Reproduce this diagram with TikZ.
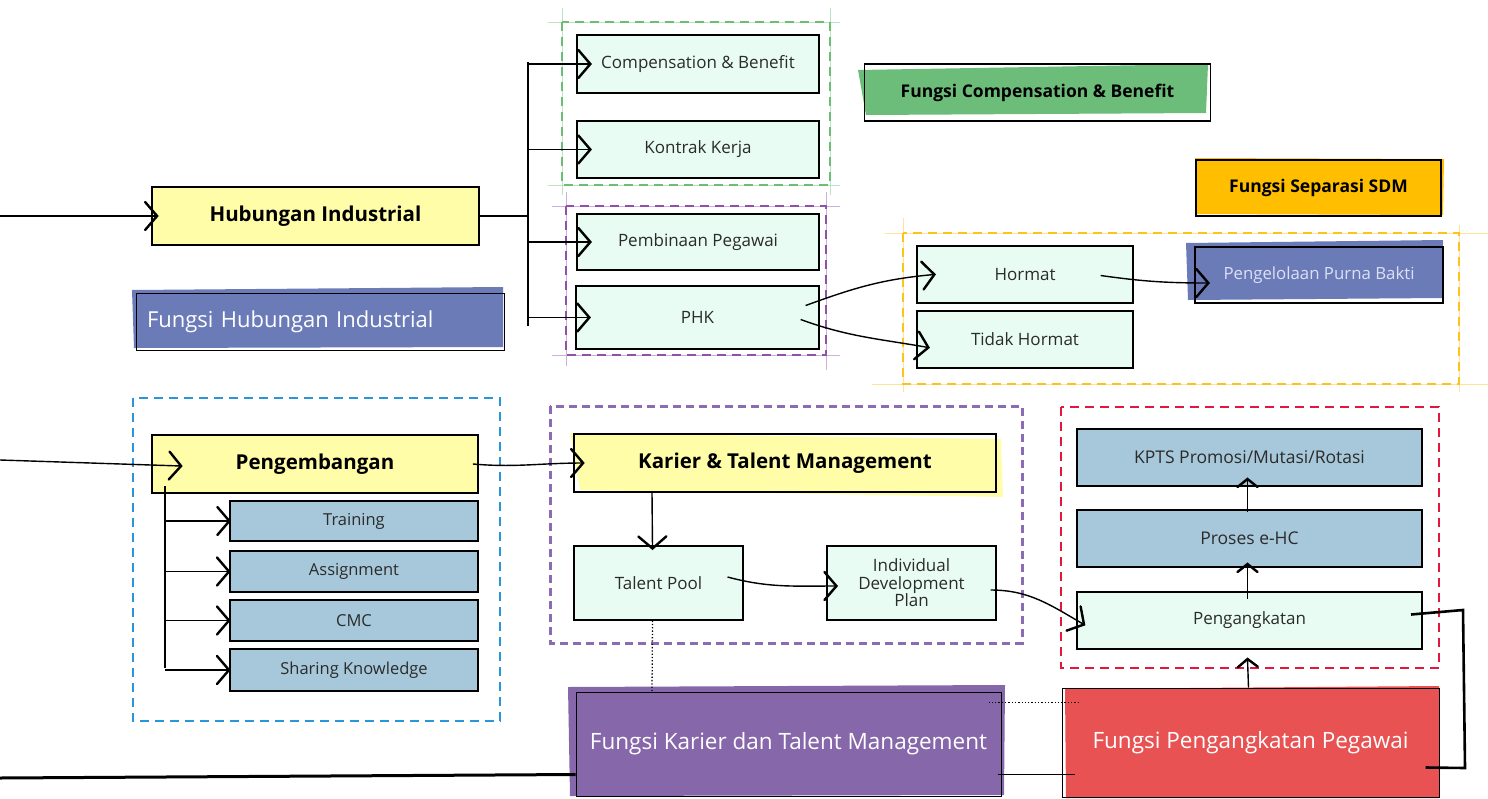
\documentclass[tikz,border=0pt]{standalone}
\usepackage{fontspec}
\setmainfont{Open Sans}
\usetikzlibrary{arrows.meta,calc,decorations.markings}

\definecolor{ink}{HTML}{2B2B2B}
\definecolor{paleyellow}{HTML}{FFFDA8}
\definecolor{mint}{HTML}{E8FCF4}
\definecolor{steel}{HTML}{A7C8DA}
\definecolor{indigo}{HTML}{6A7BB8}
\definecolor{leaf}{HTML}{6CBD7A}
\definecolor{amber}{HTML}{FFBF00}
\definecolor{grape}{HTML}{8667AA}
\definecolor{coral}{HTML}{E85252}
\definecolor{dashgreen}{HTML}{6ABF74}
\definecolor{dashpurple}{HTML}{8E52A8}
\definecolor{dashlilac}{HTML}{8B6BB3}
\definecolor{dashyellow}{HTML}{FFC21A}
\definecolor{dashblue}{HTML}{2A95D8}
\definecolor{dashred}{HTML}{E3173E}
\definecolor{lavtext}{HTML}{DDE0F5}

\tikzset{
  base/.style={draw=black, line width=1.3pt, inner sep=4pt, text=ink, align=center},
  headbox/.style={base, line width=1.8pt, fill=paleyellow, font=\bfseries\fontsize{20.5}{24}\selectfont, text=black},
  leafbox/.style={base, fill=mint, font=\fontsize{17}{19}\selectfont},
  bluebox/.style={base, fill=steel, font=\fontsize{16.5}{19}\selectfont},
  tagbox/.style={base, line width=1.8pt, font=\bfseries\fontsize{17.5}{20}\selectfont, text=black},
  unitbox/.style={base, line width=1pt, font=\fontsize{22.5}{26}\selectfont, text=white},
  group/.style={line width=1.4pt, dash pattern=on 9pt off 6pt},
  guide/.style={line width=0.5pt, opacity=0.45},
  conn/.style={line width=1.4pt, black},
  % open ">" head drawn at the end of a connector
  chevron/.style 2 args={postaction={decorate, decoration={markings,
      mark=at position 1 with {\draw[solid, line width=2.4pt, line cap=round, line join=miter]
        (-#1,#2) -- (0pt,0pt) -- (-#1,-#2);}}}},
  chev/.style={conn, chevron={12pt}{14pt}},
  chevs/.style={conn, chevron={8pt}{10pt}},
}

\begin{document}
\begin{tikzpicture}[x=1pt,y=-1pt]
\useasboundingbox (0,0) rectangle (1488,798);

% ---------- dashed grouping frames ----------
\draw[group, dashgreen] (562,22) rectangle (830,185);
\draw[guide, dashgreen] (548,22) -- (840,22) (548,185) -- (840,185)
                        (562,8) -- (562,195) (830,8) -- (830,195);
\draw[group, dashpurple] (566,206) rectangle (826,355);
\draw[guide, dashpurple] (552,206) -- (840,206) (552,355) -- (840,355)
                         (566,192) -- (566,366) (826,192) -- (826,370);
\draw[group, dashyellow] (903,233) rectangle (1459,384);
\draw[guide, dashyellow] (885,233) -- (1488,233) (872,384) -- (1488,384)
                         (903,218) -- (903,392) (1459,225) -- (1459,392);
\draw[group, dashblue, line width=1.8pt] (133,398) rectangle (500,721);
\draw[group, dashlilac, line width=3pt, dash pattern=on 8pt off 5pt] (550,406) rectangle (1022,643);
\draw[group, dashred, line width=1.8pt] (1061,407) rectangle (1439,668);

% ---------- loosely painted fills under the labels ----------
\fill[indigo] (132,290) -- (503,287) -- (503,347) -- (134,348) -- cycle;
\fill[leaf]   (858,70) -- (1208,64) -- (1206,113) -- (866,115) -- cycle;
\fill[amber]  (1195,158) -- (1444,159) -- (1443,215) -- (1196,214) -- cycle;
\fill[indigo] (1186,243) -- (1443,240) -- (1442,298) -- (1188,300) -- cycle;
\fill[grape]  (568,687) -- (1005,685) -- (1004,795) -- (570,796) -- cycle;
\fill[coral]  (1065,689) -- (1439,686) -- (1439,798) -- (1066,798) -- cycle;
\fill[paleyellow] (570,433) -- (1001,439) -- (1003,497) -- (580,490) -- cycle;

% ---------- Hubungan Industrial branch ----------
\node[headbox, minimum width=327pt, minimum height=58pt] (hub) at (315.5,216) {Hubungan Industrial};
\node[unitbox, minimum width=368pt, minimum height=57pt,
      text width=346pt, align=left, font=\fontsize{22}{25}\selectfont] (fhub) at (320,321.5) {Fungsi Hubungan Industrial};

\node[leafbox, minimum width=242pt, minimum height=58pt] (cb)  at (698,64)    {Compensation \& Benefit};
\node[leafbox, minimum width=242pt, minimum height=57pt] (kk)  at (698,149.5) {Kontrak Kerja};
\node[leafbox, minimum width=242pt, minimum height=56pt] (pp)  at (698,242)   {Pembinaan Pegawai};
\node[leafbox, minimum width=243pt, minimum height=63pt] (phk) at (697.5,317.5) {PHK};

\node[tagbox, minimum width=346pt, minimum height=57pt] (fcb) at (1037.5,92.5) {Fungsi Compensation \& Benefit};
\node[tagbox, minimum width=245pt, minimum height=56pt] (fsep) at (1318.5,188) {Fungsi Separasi SDM};

\node[leafbox, minimum width=216pt, minimum height=57pt] (hormat) at (1025,274.5) {Hormat};
\node[leafbox, minimum width=216pt, minimum height=57pt] (tidak)  at (1025,339.5) {Tidak Hormat};
\node[base, text=lavtext, font=\fontsize{16.8}{19}\selectfont,
      minimum width=248pt, minimum height=56pt] (purna) at (1319,275) {Pengelolaan Purna Bakti};

% bus feeding the four Hubungan Industrial topics
\coordinate (hin) at (0,216);
\coordinate (hbus) at (528,216);
\coordinate (hbustop) at (528,62);
\coordinate (hbusbot) at (528,326);
\draw[chev] (hin) -- ([xshift=6pt]hub.west);
\draw[conn] (hub.east) -- (hbus);
\draw[conn] (hbustop) -- (hbusbot);
\draw[chev] (hbustop |- cb.west) -- ([xshift=14pt]cb.west);
\draw[chev] (hbustop |- kk.west) -- ([xshift=14pt]kk.west);
\draw[chev] (hbustop |- pp.west) -- ([xshift=14pt]pp.west);
\draw[chev] (hbustop |- phk.west) -- ([xshift=14pt]phk.west);

\draw[chev] ($(phk.east)+(-14,-12)$) to[out=20,in=185] ([xshift=18pt]hormat.west);
\draw[chev] ($(phk.east)+(-19,2)$) to[out=-20,in=170] ([xshift=12pt,yshift=-8pt]tidak.west);
\draw[chev] ($(hormat.east)+(-33,1)$) to[out=-8,in=180] ([xshift=14pt,yshift=-8pt]purna.west);

% ---------- Pengembangan branch ----------
\node[headbox, minimum width=326pt, minimum height=58pt] (peng) at (315,464) {Pengembangan};
\node[bluebox, minimum width=248pt, minimum height=40pt] (train)  at (354,521)   {Training};
\node[bluebox, line width=2pt, minimum width=248pt, minimum height=41pt] (assign) at (354,571.5) {Assignment};
\node[bluebox, line width=2pt, minimum width=248pt, minimum height=41pt] (cmc)    at (354,620.5) {CMC};
\node[bluebox, line width=2pt, minimum width=248pt, minimum height=42pt] (share)  at (354,670)   {Sharing Knowledge};

\coordinate (pin) at (0,460);
\coordinate (pbustop) at (165,486);
\coordinate (pbusbot) at (165,668);
\draw[chev] (pin) -- ([xshift=30pt,yshift=-2pt]peng.west);
\draw[conn] (pbustop) -- (pbusbot);
\draw[chev] (pbustop |- train.west) -- (train.west);
\draw[chev] (pbustop |- assign.west) -- (assign.west);
\draw[chev] (pbustop |- cmc.west) -- (cmc.west);
\draw[chev] (pbustop |- share.west) -- (share.west);

% ---------- Karier & Talent Management branch ----------
\node[headbox, fill=none, minimum width=422pt, minimum height=58pt] (karier) at (785,463) {Karier \& Talent Management};
\node[leafbox, line width=1.1pt, minimum width=169pt, minimum height=74pt] (tpool) at (658.5,583) {Talent Pool};
\node[leafbox, line width=1.1pt, minimum width=169pt, minimum height=74pt,
      font=\fontsize{17}{17.5}\selectfont] (idp) at (911.5,583) {Individual\\Development\\Plan};
\node[unitbox, minimum width=425pt, minimum height=104pt] (fkarier) at (788.5,744) {Fungsi Karier dan Talent Management};

\draw[chev] ([xshift=-6pt]peng.east) to[out=-5,in=180] ([xshift=10pt]karier.west);
\draw[chev] ([xshift=-133pt]karier.south) -- ([xshift=-6pt,yshift=-3pt]tpool.north);
\draw[chev] ($(tpool.east)+(-16,-6)$) to[out=-15,in=180] ([xshift=10pt,yshift=-3pt]idp.west);
\draw[dotted, line width=1.3pt] ([xshift=-6pt]tpool.south) -- ([xshift=-136.5pt]fkarier.north);

% ---------- Pengangkatan branch ----------
\node[bluebox, line width=2pt, minimum width=345pt, minimum height=57pt, font=\fontsize{17.5}{20}\selectfont] (kpts) at (1249.5,457.5) {KPTS Promosi/Mutasi/Rotasi};
\node[bluebox, line width=2pt, minimum width=345pt, minimum height=57pt, font=\fontsize{17.5}{20}\selectfont] (ehc) at (1249.5,538.5) {Proses e-HC};
\node[leafbox, line width=2pt, minimum width=345pt, minimum height=57pt] (pangkat) at (1249.5,620.5) {Pengangkatan};
\node[unitbox, minimum width=377pt, minimum height=109pt] (fpeng) at (1250.5,742.5) {Fungsi Pengangkatan Pegawai};

\draw[chev] ($(idp.east)+(-6,7)$) to[out=0,in=150] ([xshift=8pt,yshift=-4pt]pangkat.west);
\draw[chevs] ([xshift=-2pt]fpeng.north) -- ([xshift=-2pt,yshift=-9pt]pangkat.south);
\draw[chevs] ([xshift=-2pt,yshift=-8pt]pangkat.north) -- ([xshift=-2pt,yshift=4pt]ehc.south);
\draw[chevs] ([xshift=-2pt,yshift=-3pt]ehc.north) -- ([xshift=-2pt,yshift=8pt]kpts.south);

% return loop from Pengangkatan into its unit
\draw[line width=2.6pt, line join=miter]
  ($(pangkat.east)+(-12,-6)$) -- (1463,610) -- (1465,768) -- ($(fpeng.east)+(-14,25)$);

% links between the two bottom units and the incoming line
\coordinate (kin) at (0,778);
\draw[line width=3pt] (kin) -- ([yshift=22pt]fkarier.south west);
\draw[line width=0.8pt] ([xshift=-4pt,yshift=22pt]fkarier.south east) -- ([xshift=13pt,yshift=23pt]fpeng.south west);
\draw[dotted, line width=1.3pt] ($(fkarier.north east)+(-13,11)$) -- ($(fpeng.north west)+(18,15)$);

\end{tikzpicture}
\end{document}
